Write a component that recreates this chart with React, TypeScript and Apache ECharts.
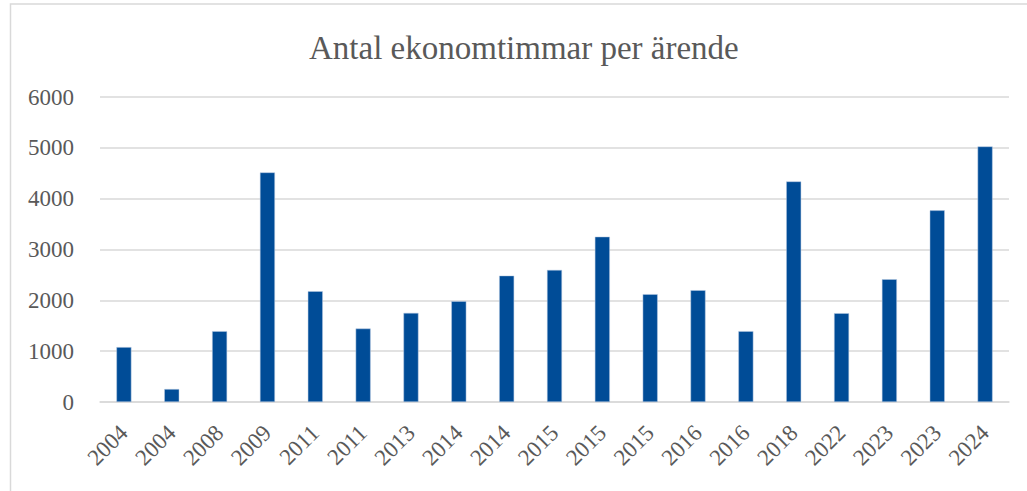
import React, { useEffect, useRef } from "react";
import * as echarts from "echarts";

const title = "Antal ekonomtimmar per ärende";
const categories = [
  "2004", "2004", "2008", "2009", "2011", "2011", "2013", "2014", "2014", "2015",
  "2015", "2015", "2016", "2016", "2018", "2022", "2023", "2023", "2024",
];
const values = [
  1080, 255, 1394, 4516, 2179, 1445, 1753, 1983, 2486, 2598,
  3252, 2121, 2199, 1394, 4339, 1747, 2415, 3770, 5027,
];
const yTicks = { min: 0, max: 6000, interval: 1000 };

const FONT = "'Liberation Serif', 'DejaVu Serif', serif";
const TEXT = "#595959";
const GRID = "#d9d9d9";

export default function App() {
  const ref = useRef<HTMLDivElement>(null);
  useEffect(() => {
    if (!ref.current) return;
    const chart = echarts.init(ref.current, undefined, { renderer: "svg" });
    chart.setOption({
      animation: false,
      backgroundColor: "#ffffff",
      title: {
        text: title,
        left: 304,
        top: 26,
        textStyle: { fontFamily: FONT, fontSize: 33, fontWeight: "normal", color: TEXT },
      },
      graphic: [
        {
          type: "rect",
          shape: { x: 10.5, y: 4, width: 1040, height: 520 },
          style: { fill: "none", stroke: GRID, lineWidth: 1.5 },
          silent: true,
        },
      ],
      grid: { left: 100, right: 18, top: 97, bottom: 89 },
      xAxis: {
        type: "category",
        data: categories,
        axisTick: { show: false },
        axisLine: { show: true, lineStyle: { color: GRID, width: 1.5 } },
        axisLabel: {
          rotate: 45,
          interval: 0,
          margin: 27,
          fontFamily: FONT,
          fontSize: 23,
          color: TEXT,
        },
      },
      yAxis: {
        type: "value",
        min: yTicks.min,
        max: yTicks.max,
        interval: yTicks.interval,
        axisLine: { show: false },
        axisTick: { show: false },
        splitLine: { lineStyle: { color: GRID, width: 1.5 } },
        axisLabel: {
          margin: 26,
          fontFamily: FONT,
          fontSize: 23,
          color: TEXT,
          formatter: (v: number) => String(v),
        },
      },
      series: [
        {
          type: "bar",
          data: values,
          barWidth: 15,
          itemStyle: { color: "#004c97", borderColor: "#b9cbe3", borderWidth: 0.5 },
        },
      ],
    });
    return () => chart.dispose();
  }, []);
  return (
    <div
      ref={ref}
      style={{ position: "absolute", left: 0, top: 0, width: 1027, height: 491 }}
    />
  );
}
